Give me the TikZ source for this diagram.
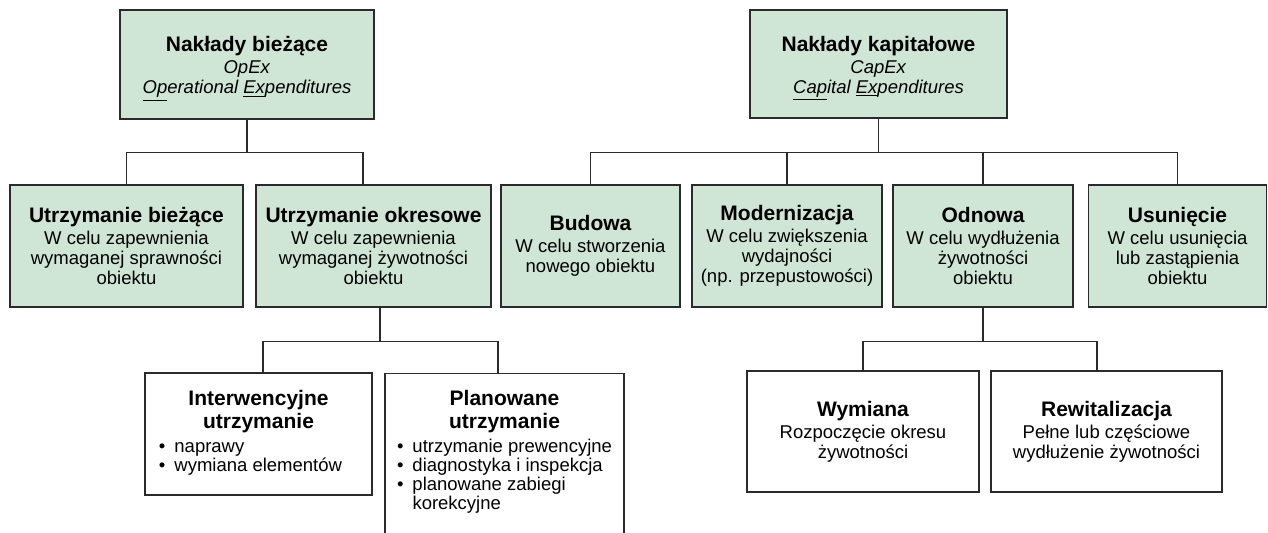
\documentclass[tikz,border=0pt]{standalone}
\usepackage{fontspec}
\setmainfont{Liberation Sans}
\usepackage{xcolor}
\definecolor{zielen}{HTML}{CFE6D6}
\definecolor{ramka}{HTML}{2B2B2B}
\def\mycolor{zielen}
\def\kolorlinii{ramka}
\usepackage{tikz}
\usetikzlibrary{calc,positioning}
\newcommand{\tytul}[1]{{\fontsize{10.5}{11}\selectfont\bfseries #1}}
\newcommand{\lista}[2][0pt]{{\renewcommand{\arraystretch}{0.95}\begin{tabular}{@{}l@{\hspace{4.5pt}}l@{\hspace{#1}}}#2\end{tabular}}}

\begin{document}
\begin{tikzpicture}[x=0.5pt,y=-0.5pt]
	\tikzset{
		zielony/.style={draw=\kolorlinii,line width=0.65pt,fill=\mycolor,align=center,inner sep=0pt,font=\fontsize{9.25}{10}\selectfont},
		bialy/.style={zielony,fill=white},
		linia/.style={draw=\kolorlinii,line width=0.55pt}
	}
	\useasboundingbox (0,0) rectangle (1268,533);
	%%%Nakłady
	\path (247,64.5) node[zielony,minimum width=127pt,minimum height=54.5pt] (opex) {\tytul{\rule{0pt}{12pt}Nakłady bieżące}\\[1pt] \textit{OpEx}\\ \textit{\underline{Op}erational \underline{Ex}penditures}};
	\path (878.5,64) node[zielony,minimum width=128.5pt,minimum height=54pt] (capex) {\tytul{\rule{0pt}{12pt}Nakłady kapitałowe}\\[1pt] \textit{CapEx}\\ \textit{\underline{Cap}ital \underline{Ex}penditures}};
	%%%Utrzymanie
	\path (126.5,246) node[zielony,minimum width=116.5pt,minimum height=61pt] (ub) {\tytul{Utrzymanie bieżące}\\[1pt] W celu zapewnienia\\ wymaganej sprawności\\ obiektu};
	\path (373.5,246) node[zielony,minimum width=117.5pt,minimum height=61pt] (uo) {\tytul{Utrzymanie okresowe}\\[1pt] W celu zapewnienia\\ wymaganej żywotności\\ obiektu};
	%%%Inwestycje
	\path (590.5,246) node[zielony,minimum width=89.5pt,minimum height=61pt] (budowa) {\tytul{Budowa}\\[1pt] W celu stworzenia\\ nowego obiektu};
	\path (787,246) node[zielony,minimum width=95pt,minimum height=61pt] (modern) {\tytul{Modernizacja}\\[1pt] W celu zwiększenia\\ wydajności\\ (np. przepustowości)};
	\path (983,246) node[zielony,minimum width=90pt,minimum height=61pt] (odnowa) {\tytul{Odnowa}\\[1pt] W celu wydłużenia\\ żywotności\\ obiektu};
	\path (1177.5,246) node[zielony,minimum width=89pt,minimum height=61pt] (usun) {\tytul{Usunięcie}\\[1pt] W celu usunięcia\\ lub zastąpienia\\ obiektu};
	%%%Rodzaje utrzymania
	\path (258.5,434) node[bialy,minimum width=113.5pt,minimum height=61pt] (interw) {\tytul{Interwencyjne}\\[1.5pt] \tytul{utrzymanie}\\[2pt] \lista[8pt]{\textbullet & naprawy\\ \textbullet & wymiana elementów}};
	\path (504.5,373) node[bialy,anchor=north,minimum width=119.5pt,inner ysep=8.5pt,text depth=80pt] (plan) {\tytul{Planowane}\\[1.5pt] \tytul{utrzymanie}\\[2pt] \lista{\textbullet & utrzymanie prewencyjne\\ \textbullet & diagnostyka i inspekcja\\ \textbullet & planowane zabiegi\\ & korekcyjne}};
	%%%Rodzaje odnowy
	\path (863,431.5) node[bialy,minimum width=116pt,minimum height=60.5pt] (wymiana) {\tytul{Wymiana}\\[1pt] Rozpoczęcie okresu\\ żywotności};
	\path (1106.5,431.5) node[bialy,minimum width=115.5pt,minimum height=60.5pt] (rewit) {\tytul{Rewitalizacja}\\[1pt] Pełne lub częściowe\\ wydłużenie żywotności};
	%%%Linie
	\draw[linia] (opex.south) -- ++(0,33) -| (ub.north) (opex.south) ++(0,33) -| ([xshift=-5.25pt]uo.north);
	\draw[linia] (capex.south) -- ++(0,34) -| (budowa.north) (capex.south) ++(0,34) -| (usun.north);
	\draw[linia] (capex.south) ++(0,34) -| (modern.north) (capex.south) ++(0,34) -| (odnowa.north);
	\draw[linia] ([xshift=3.25pt]uo.south) -- ++(0,34) -| ([xshift=2.25pt]interw.north) ([xshift=3.25pt]uo.south) ++(0,34) -| ([xshift=-3.25pt]plan.north);
	\draw[linia] (odnowa.south) -- ++(0,34) -| (wymiana.north) (odnowa.south) ++(0,34) -| ([xshift=-4.75pt]rewit.north);
\end{tikzpicture}
\end{document}
